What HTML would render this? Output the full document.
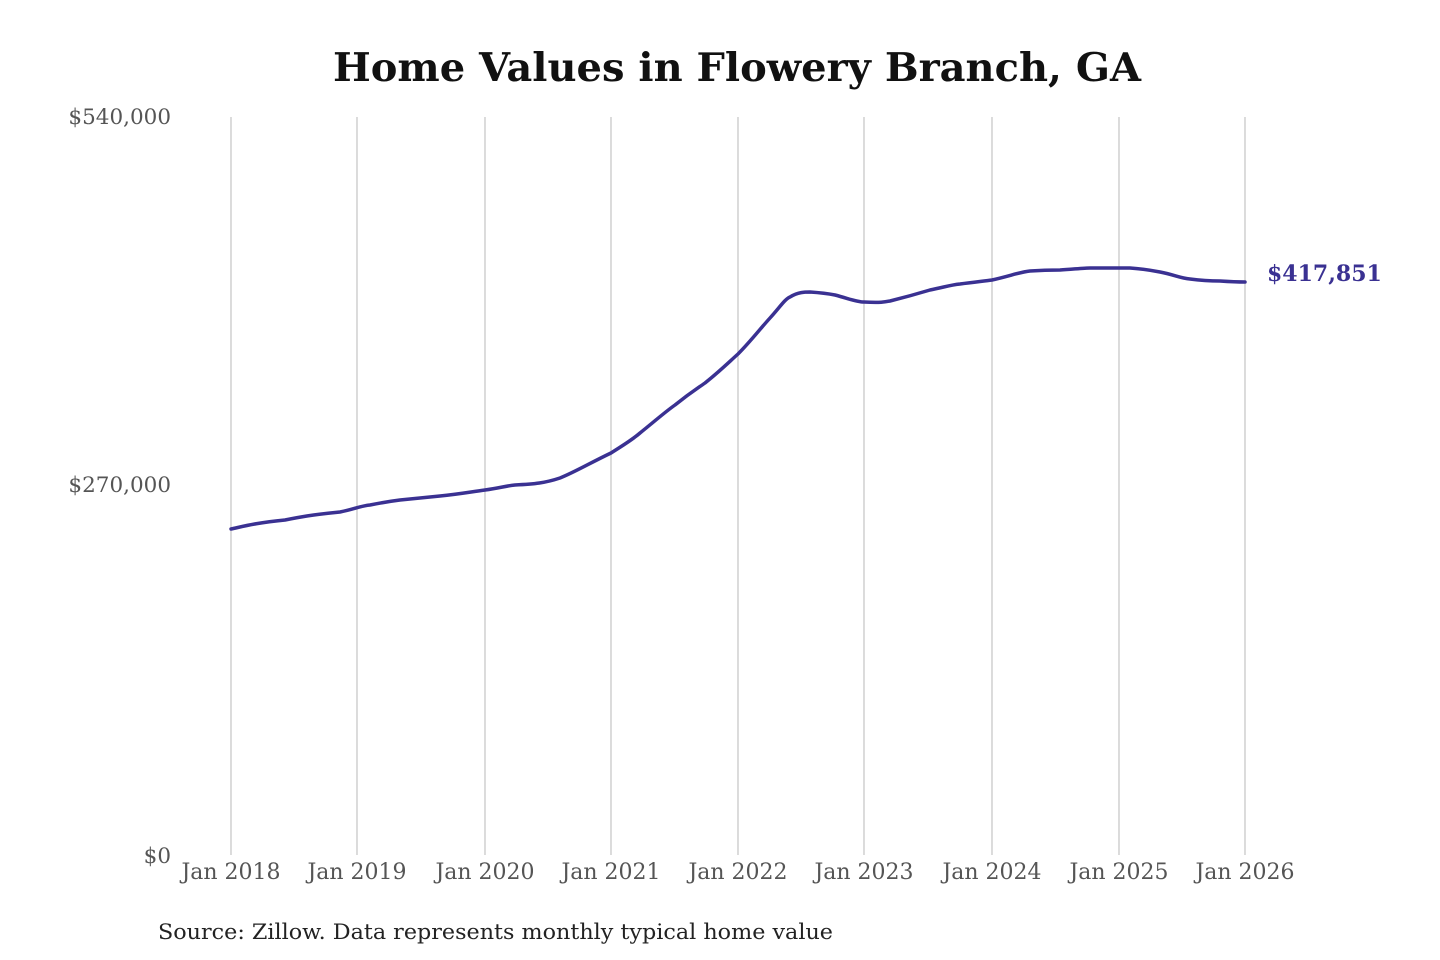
<!DOCTYPE html>
<html><head><meta charset="utf-8"><style>
html,body{margin:0;padding:0;background:#fff;}
svg{display:block;}
</style></head><body>
<svg width="1440" height="960" viewBox="0 0 1440 960" xmlns="http://www.w3.org/2000/svg">
<rect width="1440" height="960" fill="#fff"/>
<text x="737" y="81" text-anchor="middle" font-family="'DejaVu Serif','Liberation Serif',serif" font-weight="bold" font-size="39" fill="#111" textLength="808" lengthAdjust="spacingAndGlyphs">Home Values in Flowery Branch, GA</text>
<g stroke="#c8c8c8" stroke-width="1.3">
<line x1="231" y1="117" x2="231" y2="855"/>
<line x1="357" y1="117" x2="357" y2="855"/>
<line x1="485" y1="117" x2="485" y2="855"/>
<line x1="611" y1="117" x2="611" y2="855"/>
<line x1="738" y1="117" x2="738" y2="855"/>
<line x1="864" y1="117" x2="864" y2="855"/>
<line x1="992" y1="117" x2="992" y2="855"/>
<line x1="1119" y1="117" x2="1119" y2="855"/>
<line x1="1245" y1="117" x2="1245" y2="855"/>
</g>
<g font-family="'DejaVu Serif','Liberation Serif',serif" font-size="21.5" fill="#555" text-anchor="end">
<text x="171" y="124">$540,000</text>
<text x="171" y="492">$270,000</text>
<text x="171" y="863">$0</text>
</g>
<g font-family="'DejaVu Serif','Liberation Serif',serif" font-size="22" fill="#555" text-anchor="middle">
<text x="231" y="879">Jan 2018</text>
<text x="357" y="879">Jan 2019</text>
<text x="485" y="879">Jan 2020</text>
<text x="611" y="879">Jan 2021</text>
<text x="738" y="879">Jan 2022</text>
<text x="864" y="879">Jan 2023</text>
<text x="992" y="879">Jan 2024</text>
<text x="1119" y="879">Jan 2025</text>
<text x="1245" y="879">Jan 2026</text>
</g>
<path fill="none" stroke="#3a3192" stroke-width="3.5" stroke-linejoin="round" stroke-linecap="round"
d="M231,529 C245,526 255,523 285,520 C300,517 310,515 340,512 C355,509 360,506 370,505 C385,502 392,501 400,500 C420,498 430,497 440,496 C460,494 470,492 485,490 C500,488 505,486 515,485 C535,484 545,483 560,478 C575,472 590,463 611,453 C625,444 632,440 640,433 C655,421 665,412 675,405 C690,393 695,390 705,383 C720,371 728,363 738,354 C750,342 760,329 770,318 C780,307 785,299 790,297 C798,292 805,292 810,292 C825,293 830,294 835,295 C850,299 857,302 864,302 C880,303 885,302 890,301 C910,296 920,293 930,290 C945,287 950,285 960,284 C975,282 985,281 992,280 C1010,276 1020,272 1030,271 C1045,270 1055,270 1060,270 C1075,269 1085,268 1090,268 C1110,268 1120,268 1130,268 C1145,269 1155,271 1160,272 C1175,275 1180,278 1190,279 C1205,281 1215,281 1220,281 C1235,282 1240,282 1245,282"/>
<text x="1267" y="281" font-family="'DejaVu Serif','Liberation Serif',serif" font-weight="bold" font-size="22" fill="#3a3192">$417,851</text>
<text x="158" y="939" font-family="'DejaVu Serif','Liberation Serif',serif" font-size="21" fill="#222" textLength="675" lengthAdjust="spacingAndGlyphs">Source: Zillow. Data represents monthly typical home value</text>
</svg>
</body></html>
